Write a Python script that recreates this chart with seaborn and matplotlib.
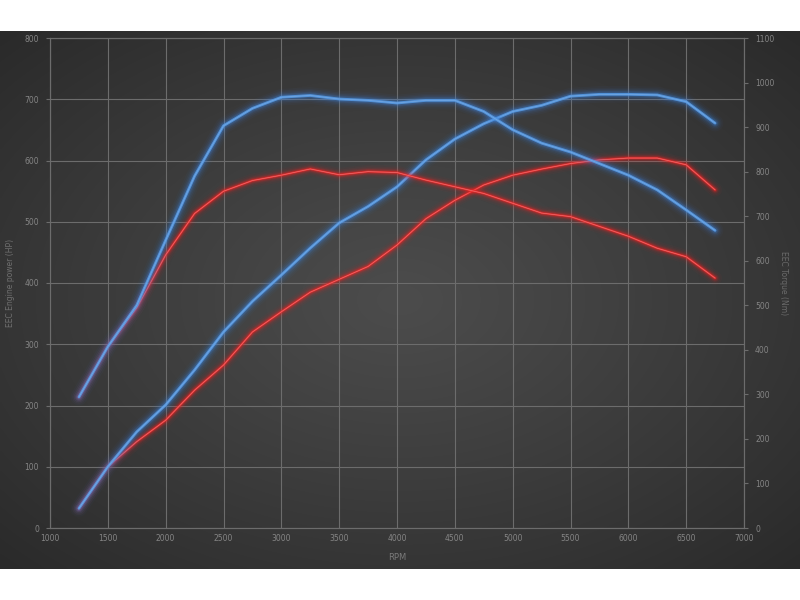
import numpy as np
import pandas as pd
import matplotlib
matplotlib.use("Agg")
import matplotlib.pyplot as plt
import seaborn as sns

# ---- data ----
rpm = [1250, 1500, 1750, 2000, 2250, 2500, 2750, 3000, 3250, 3500, 3750, 4000,
       4250, 4500, 4750, 5000, 5250, 5500, 5750, 6000, 6250, 6500, 6750]

power_blue_hp = [32, 100, 157, 201, 258, 320, 370, 413, 457, 498, 525, 557,
                 601, 635, 660, 680, 690, 705, 708, 708, 707, 696, 661]
power_red_hp = [32, 100, 141, 176, 225, 266, 320, 353, 385, 406, 427, 462,
                505, 535, 560, 576, 586, 595, 601, 604, 604, 593, 552]

torque_blue_nm = [294, 407, 500, 646, 790, 903, 942, 967, 971, 963, 960, 954,
                  960, 960, 935, 894, 864, 844, 818, 792, 759, 714, 668]
torque_red_nm = [294, 407, 494, 613, 706, 756, 780, 792, 806, 793, 800, 798,
                 781, 766, 751, 729, 707, 699, 677, 655, 628, 609, 561]

x_ticks = [1000, 1500, 2000, 2500, 3000, 3500, 4000, 4500, 5000, 5500, 6000, 6500, 7000]
hp_ticks = [0, 100, 200, 300, 400, 500, 600, 700, 800]
nm_ticks = [0, 100, 200, 300, 400, 500, 600, 700, 800, 900, 1000, 1100]

df = pd.DataFrame({"rpm": rpm, "pb": power_blue_hp, "pr": power_red_hp,
                   "tb": torque_blue_nm, "tr": torque_red_nm})

sns.set_theme(style="dark")
plt.rcParams['font.family'] = ['DejaVu Sans']

W, H = 800, 600
fig = plt.figure(figsize=(W / 100, H / 100), dpi=100, facecolor="white")

# background panel with radial gradient
bg = fig.add_axes([0, 31 / H, 1, 538 / H], zorder=-5)
gy, gx = np.mgrid[0:1:300j, 0:1:400j]
r = np.sqrt(((gx - 0.5) / 0.5) ** 2 + ((gy - 0.5) / 0.5) ** 2) / np.sqrt(2)
c_center = np.array([0x4c, 0x4c, 0x4c]) / 255
c_edge = np.array([0x2a, 0x2a, 0x2a]) / 255
t = np.clip(r, 0, 1)[..., None] ** 1.1
img = c_center * (1 - t) + c_edge * t
bg.imshow(img, aspect="auto", extent=[0, 1, 0, 1], interpolation="bilinear")
bg.set_axis_off()

left, right_px, top, bottom = 50, 744, 38, 528
ax = fig.add_axes([left / W, (H - bottom) / H, (right_px - left) / W, (bottom - top) / H])
ax.set_facecolor("none")
ax2 = ax.twinx()
ax2.set_facecolor("none")

grid_c = "#6c6c6c"
tick_c = "#858585"


def glow(a, col, glow_c, core_c, center_c, core_w, layers):
    for w, al in layers:
        sns.lineplot(data=df, x="rpm", y=col, ax=a, color=glow_c, lw=w, alpha=al,
                     estimator=None, solid_capstyle="round", solid_joinstyle="round")
    sns.lineplot(data=df, x="rpm", y=col, ax=a, color=core_c, lw=core_w, alpha=0.9,
                 estimator=None, solid_capstyle="round", solid_joinstyle="round")
    sns.lineplot(data=df, x="rpm", y=col, ax=a, color=center_c, lw=0.5, alpha=0.6,
                 estimator=None, solid_capstyle="round", solid_joinstyle="round")


blue_layers = [(12, 0.035), (9.5, 0.05), (7.5, 0.08), (5.5, 0.12), (4, 0.2)]
red_layers = [(10, 0.035), (7.5, 0.05), (5.5, 0.09), (4, 0.15), (2.8, 0.22)]

glow(ax, "pr", "#ff2020", "#e52b2b", "#ff9a9a", 1.4, red_layers)
glow(ax, "pb", "#3a86e6", "#5598e2", "#8cbaee", 2.0, blue_layers)
glow(ax2, "tr", "#ff2020", "#e52b2b", "#ff9a9a", 1.4, red_layers)
glow(ax2, "tb", "#3a86e6", "#5598e2", "#8cbaee", 2.0, blue_layers)

for a in (ax, ax2):
    leg = a.get_legend()
    if leg:
        leg.remove()

ax.set_xlim(1000, 7000)
ax.set_ylim(0, 800)
ax2.set_ylim(0, 1100)
ax.set_xticks(x_ticks)
ax.set_yticks(hp_ticks)
ax2.set_yticks(nm_ticks)
ax.grid(True, color=grid_c, lw=0.8)
ax2.grid(False)
for a in (ax, ax2):
    for s in a.spines.values():
        s.set_color(grid_c)
        s.set_linewidth(0.8)
ax.tick_params(axis="x", length=0, pad=4, labelsize=5.5, labelcolor=tick_c)
ax.tick_params(axis="y", length=3, width=0.8, color=grid_c, pad=5, labelsize=5.5,
               labelcolor=tick_c, left=True)
ax2.tick_params(axis="y", length=3, width=0.8, color=grid_c, pad=5, labelsize=5.5,
                labelcolor=tick_c, right=True)

ax.set_xlabel("RPM", fontsize=6, color="#7a7a7a")
ax.xaxis.set_label_coords(0.5, -0.051)
ax.set_ylabel("EEC Engine power (HP)", fontsize=5.5, color="#6f6f6f")
ax.yaxis.set_label_coords(-0.0504, 0.5)
ax2.set_ylabel("EEC Torque (Nm)", fontsize=5.5, color="#6a6a6a", rotation=270, va="center")
ax2.yaxis.set_label_coords(1.0576, 0.5)

fig.savefig("out.png", dpi=100, facecolor="white")
